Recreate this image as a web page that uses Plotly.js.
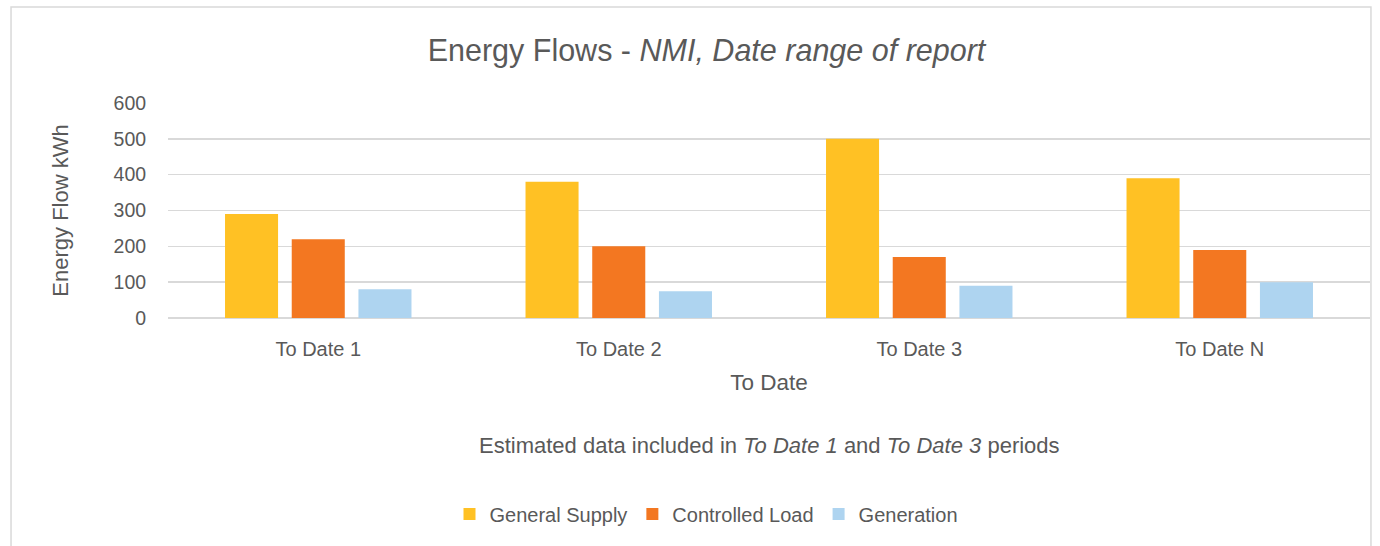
<!DOCTYPE html>
<html>
<head>
<meta charset="utf-8">
<script src="https://cdn.plot.ly/plotly-3.0.1.min.js"></script>
<style>
html,body{margin:0;padding:0;background:#fff;}
#chart{width:1380px;height:546px;}
</style>
</head>
<body>
<div id="chart"></div>
<script>
const categories = ["To Date 1", "To Date 2", "To Date 3", "To Date N"];
const generalSupply = [290, 380, 500, 390];
const controlledLoad = [220, 200, 170, 190];
const generation = [80, 75, 90, 100];

const FONT = '"Liberation Sans Narrow", "Arial Narrow", "Liberation Sans", Arial, sans-serif';
const TXT = '#595959';

const traces = [
  {type:'bar', name:'General Supply', x:categories, y:generalSupply, marker:{color:'#FFC124'}},
  {type:'bar', name:'Controlled Load', x:categories, y:controlledLoad, marker:{color:'#F37721'}},
  {type:'bar', name:'Generation', x:categories, y:generation, marker:{color:'#AED4F0'}}
];

const layout = {
  width:1380, height:546,
  paper_bgcolor:'#fff', plot_bgcolor:'#fff',
  margin:{l:168, r:10, t:103, b:228},
  font:{family:FONT, color:TXT, size:18},
  barmode:'group', bargap:0.334, bargroupgap:0.205,
  title:{text:'Energy Flows - <i>NMI, Date range of report</i>', font:{size:30.5, color:TXT, family:FONT},
         x:0.448, xanchor:'center', xref:'paper', y:0.908, yanchor:'middle', yref:'container'},
  xaxis:{type:'category', showgrid:false, showline:false, zeroline:false,
         ticks:'outside', ticklen:13, tickcolor:'rgba(0,0,0,0)',
         tickfont:{size:20, color:TXT},
         title:{text:'To Date', font:{size:22.5, color:TXT}, standoff:15}},
  yaxis:{range:[0,600], dtick:100, tick0:0, showgrid:true, gridcolor:'#D9D9D9', gridwidth:1.5,
         zeroline:true, zerolinecolor:'#D9D9D9', zerolinewidth:1.5, showline:false,
         ticks:'outside', ticklen:17, tickcolor:'rgba(0,0,0,0)',
         tickfont:{size:19.5, color:TXT},
         title:{text:'Energy Flow kWh', font:{size:22, color:TXT}, standoff:38}},
  legend:{orientation:'h', x:0.448, xanchor:'center', y:-0.912, yanchor:'middle',
          font:{size:20, color:TXT}, itemwidth:30, traceorder:'normal'},
  annotations:[{xref:'paper', yref:'paper', x:0.5, y:-0.591, xanchor:'center', yanchor:'middle',
    showarrow:false, text:'Estimated data included in <i>To Date 1</i> and <i>To Date 3</i> periods',
    font:{size:22, color:TXT}}],
  shapes:[{type:'rect', xref:'paper', yref:'paper', x0:-0.1306, x1:1.0008, y0:-2, y1:1.4465,
    line:{color:'#D9D9D9', width:1.5}, fillcolor:'rgba(0,0,0,0)', layer:'below'}]
};

Plotly.newPlot('chart', traces, layout, {displayModeBar:false, staticPlot:true});
</script>
</body>
</html>
